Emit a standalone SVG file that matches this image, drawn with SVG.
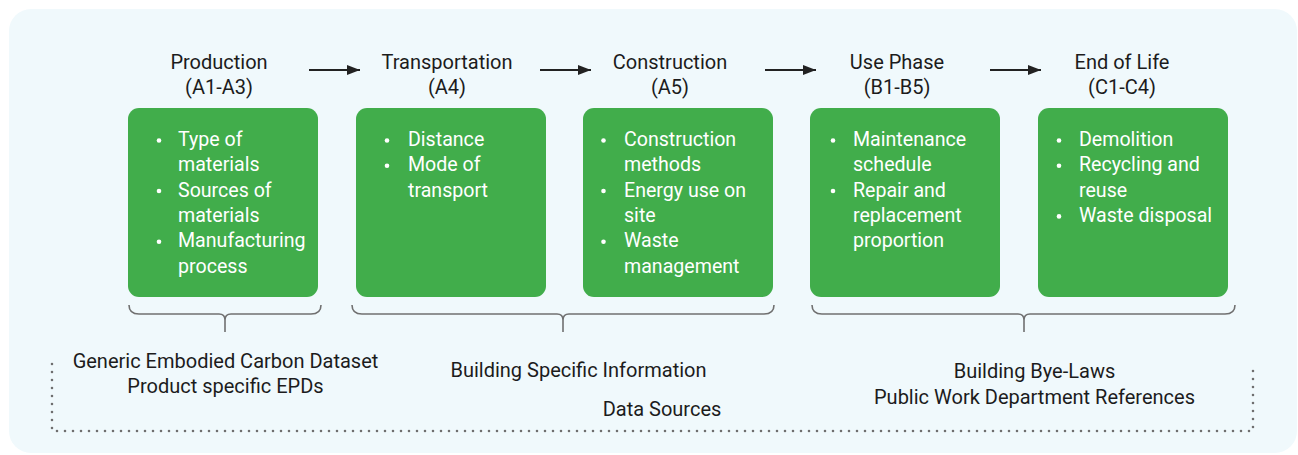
<svg xmlns="http://www.w3.org/2000/svg" width="1298" height="455" viewBox="0 0 1298 455">
  <defs>
    <marker id="arrowhead" viewBox="0 0 13 10" refX="13" refY="5" markerWidth="13" markerHeight="10" markerUnits="userSpaceOnUse" orient="auto">
      <path d="M0,0 L13,5 L0,10 Z" fill="#222"/>
    </marker>
  </defs>
  <style>
    .panel { fill: #f0f9fc; }
    .box { fill: #41ad4b; }
    .title { font-family: Roboto, "Liberation Sans", sans-serif; font-size: 20px; fill: #1c1c1c; text-anchor: middle; }
    .item { font-family: Roboto, "Liberation Sans", sans-serif; font-size: 19.6px; fill: #ffffff; }
    .dot { fill: #ffffff; }
    .note { font-family: Roboto, "Liberation Sans", sans-serif; font-size: 20px; fill: #1c1c1c; text-anchor: middle; }
    .flow { stroke: #222; stroke-width: 2; fill: none; }
    .brace { stroke: #707070; stroke-width: 1.6; fill: none; }
    .dotted { stroke: #6f6f6f; stroke-width: 2.6; fill: none; stroke-linecap: round; stroke-dasharray: 0 8; }
  </style>

  <rect class="panel" x="9" y="9" width="1288" height="444" rx="22" ry="22"/>

  <!-- Stage: Production -->
  <g id="production">
    <text class="title" x="219" y="69">Production</text>
    <text class="title" x="219" y="94">(A1-A3)</text>
    <rect class="box" x="128" y="108" width="190" height="189" rx="11"/>
    <circle class="dot" cx="159" cy="140.5" r="2.3"/>
    <circle class="dot" cx="159" cy="191" r="2.3"/>
    <circle class="dot" cx="159" cy="241.7" r="2.3"/>
    <text class="item" x="178" y="146">Type of</text>
    <text class="item" x="178" y="171.3">materials</text>
    <text class="item" x="178" y="196.6">Sources of</text>
    <text class="item" x="178" y="222">materials</text>
    <text class="item" x="178" y="247.2">Manufacturing</text>
    <text class="item" x="178" y="272.5">process</text>
  </g>

  <!-- Stage: Transportation -->
  <g id="transportation">
    <text class="title" x="447" y="69">Transportation</text>
    <text class="title" x="447" y="94">(A4)</text>
    <rect class="box" x="356" y="108" width="190" height="189" rx="11"/>
    <circle class="dot" cx="387" cy="140.5" r="2.3"/>
    <circle class="dot" cx="387" cy="165.8" r="2.3"/>
    <text class="item" x="408" y="146">Distance</text>
    <text class="item" x="408" y="171.3">Mode of</text>
    <text class="item" x="408" y="196.6">transport</text>
  </g>

  <!-- Stage: Construction -->
  <g id="construction">
    <text class="title" x="670" y="69">Construction</text>
    <text class="title" x="670" y="94">(A5)</text>
    <rect class="box" x="583" y="108" width="190" height="189" rx="11"/>
    <circle class="dot" cx="603.5" cy="140.5" r="2.3"/>
    <circle class="dot" cx="603.5" cy="191" r="2.3"/>
    <circle class="dot" cx="603.5" cy="241.7" r="2.3"/>
    <text class="item" x="624" y="146">Construction</text>
    <text class="item" x="624" y="171.3">methods</text>
    <text class="item" x="624" y="196.6">Energy use on</text>
    <text class="item" x="624" y="222">site</text>
    <text class="item" x="624" y="247.2">Waste</text>
    <text class="item" x="624" y="272.5">management</text>
  </g>

  <!-- Stage: Use Phase -->
  <g id="use-phase">
    <text class="title" x="897" y="69">Use Phase</text>
    <text class="title" x="897" y="94">(B1-B5)</text>
    <rect class="box" x="810" y="108" width="190" height="189" rx="11"/>
    <circle class="dot" cx="833" cy="140.5" r="2.3"/>
    <circle class="dot" cx="833" cy="191" r="2.3"/>
    <text class="item" x="853" y="146">Maintenance</text>
    <text class="item" x="853" y="171.3">schedule</text>
    <text class="item" x="853" y="196.6">Repair and</text>
    <text class="item" x="853" y="222">replacement</text>
    <text class="item" x="853" y="247.2">proportion</text>
  </g>

  <!-- Stage: End of Life -->
  <g id="end-of-life">
    <text class="title" x="1122" y="69">End of Life</text>
    <text class="title" x="1122" y="94">(C1-C4)</text>
    <rect class="box" x="1038" y="108" width="190" height="189" rx="11"/>
    <circle class="dot" cx="1059" cy="140.5" r="2.3"/>
    <circle class="dot" cx="1059" cy="165.8" r="2.3"/>
    <circle class="dot" cx="1059" cy="216.4" r="2.3"/>
    <text class="item" x="1079" y="146">Demolition</text>
    <text class="item" x="1079" y="171.3">Recycling and</text>
    <text class="item" x="1079" y="196.6">reuse</text>
    <text class="item" x="1079" y="222">Waste disposal</text>
  </g>

  <!-- Flow arrows between stages -->
  <g id="connectors">
    <line class="flow" x1="309" y1="70" x2="360" y2="70" marker-end="url(#arrowhead)"/>
    <line class="flow" x1="540" y1="70" x2="591" y2="70" marker-end="url(#arrowhead)"/>
    <line class="flow" x1="765" y1="70" x2="816" y2="70" marker-end="url(#arrowhead)"/>
    <line class="flow" x1="990" y1="70" x2="1041" y2="70" marker-end="url(#arrowhead)"/>
  </g>

  <!-- Braces grouping stages by data source -->
  <g id="braces">
    <path class="brace" d="M129,305 Q129,314 139,314 L219,314 Q225,314 225,320 L225,332 M225,320 Q225,314 231,314 L311,314 Q321,314 321,305"/>
    <path class="brace" d="M352,305 Q352,314 362,314 L557,314 Q563,314 563,320 L563,332 M563,320 Q563,314 569,314 L764,314 Q774,314 774,305"/>
    <path class="brace" d="M812,305 Q812,314 822,314 L1018,314 Q1024,314 1024,320 L1024,332 M1024,320 Q1024,314 1030,314 L1225,314 Q1235,314 1235,305"/>
  </g>

  <!-- Data sources frame and labels -->
  <g id="data-sources">
    <path class="dotted" d="M52,364 L52,431 L1253,431 L1253,365"/>
    <text class="note" x="225.5" y="368">Generic Embodied Carbon Dataset</text>
    <text class="note" x="225.5" y="392.5">Product specific EPDs</text>
    <text class="note" x="578.5" y="377">Building Specific Information</text>
    <text class="note" x="662" y="416">Data Sources</text>
    <text class="note" x="1034.5" y="378">Building Bye-Laws</text>
    <text class="note" x="1034.5" y="403.5">Public Work Department References</text>
  </g>
</svg>
